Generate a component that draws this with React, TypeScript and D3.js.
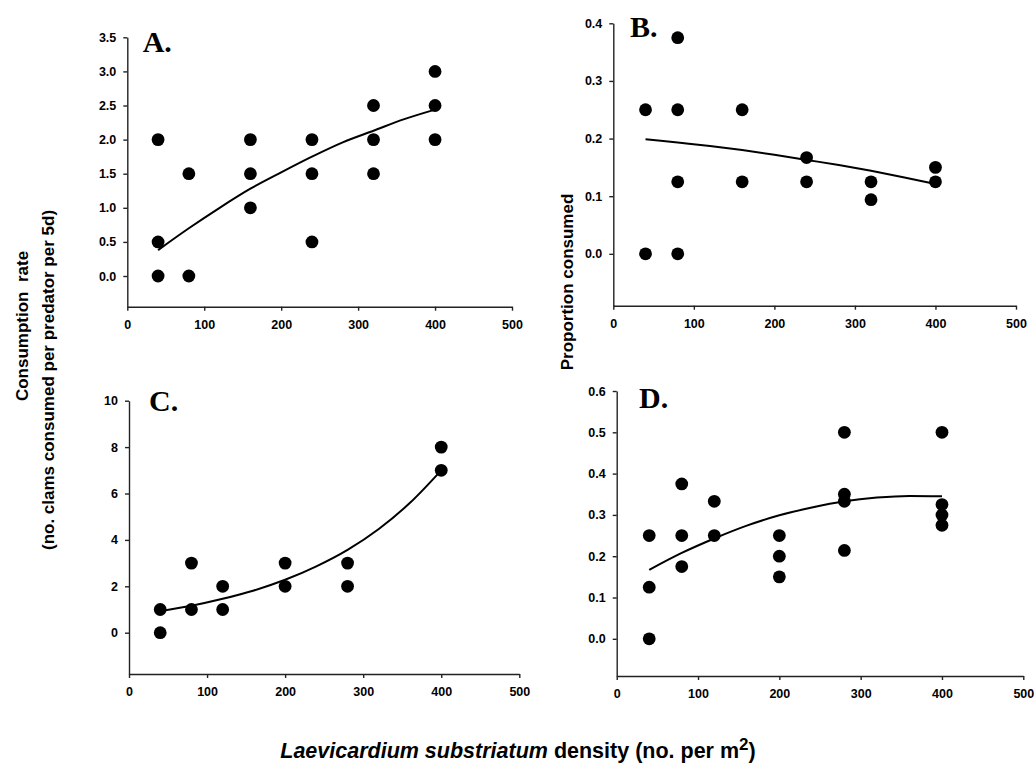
import React, { useEffect, useRef } from "react";
import * as d3 from "d3";

// A. consumption rate vs density
const densityA = [40, 40, 40, 80, 80, 160, 160, 160, 240, 240, 240, 320, 320, 320, 400, 400, 400];
const rateA = [2, 0.5, 0, 1.5, 0, 2, 1.5, 1, 2, 1.5, 0.5, 2.5, 2, 1.5, 3, 2.5, 2];
const fitXA = [40, 80, 120, 160, 200, 240, 280, 320, 360, 400];
const fitYA = [0.38, 0.7, 1.0, 1.28, 1.52, 1.75, 1.96, 2.13, 2.3, 2.44];

// B. proportion consumed
const densityB = [40, 40, 80, 80, 80, 80, 160, 160, 240, 240, 320, 320, 400, 400];
const propB = [0.25, 0, 0.375, 0.25, 0.125, 0, 0.25, 0.125, 0.167, 0.125, 0.125, 0.094, 0.15, 0.125];
const fitXB = [40, 80, 120, 160, 200, 240, 280, 320, 360, 400];
const fitYB = [0.199, 0.193, 0.187, 0.18, 0.172, 0.163, 0.154, 0.144, 0.133, 0.121];

// C. consumption rate
const densityC = [40, 40, 80, 80, 120, 120, 200, 200, 280, 280, 400, 400];
const rateC = [1, 0, 3, 1, 2, 1, 3, 2, 3, 2, 8, 7];
const fitXC = [40, 80, 120, 160, 200, 240, 280, 320, 360, 400];
const fitYC = [0.93, 1.16, 1.46, 1.82, 2.28, 2.86, 3.57, 4.47, 5.6, 7.0];

// D. proportion consumed
const densityD = [40, 40, 40, 80, 80, 80, 120, 120, 200, 200, 200, 280, 280, 280, 280, 400, 400, 400, 400];
const propD = [0.25, 0.125, 0, 0.375, 0.25, 0.175, 0.333, 0.25, 0.25, 0.2, 0.15, 0.5, 0.35, 0.333, 0.214, 0.5, 0.325, 0.3, 0.275];
const fitXD = [40, 80, 120, 160, 200, 240, 280, 320, 360, 400];
const fitYD = [0.167, 0.208, 0.243, 0.274, 0.299, 0.318, 0.333, 0.342, 0.346, 0.345];

const xTicks = [0, 100, 200, 300, 400, 500];
const yTicksA = [0, 0.5, 1, 1.5, 2, 2.5, 3, 3.5];
const yTicksB = [0, 0.1, 0.2, 0.3, 0.4];
const yTicksC = [0, 2, 4, 6, 8, 10];
const yTicksD = [0, 0.1, 0.2, 0.3, 0.4, 0.5, 0.6];

const panels = [
  { label: "A.", xs: densityA, ys: rateA, fx: fitXA, fy: fitYA, yTicks: yTicksA, fmt: ".1f",
    yDom: [-0.45, 3.5], px: [127.3, 512], py: [306.7, 37.3], lab: [142.7, 51.7] },
  { label: "B.", xs: densityB, ys: propB, fx: fitXB, fy: fitYB, yTicks: yTicksB, fmt: ".1f",
    yDom: [-0.09, 0.4], px: [613.3, 1016], py: [305.7, 23.3], lab: [630, 37.3] },
  { label: "C.", xs: densityC, ys: rateC, fx: fitXC, fy: fitYC, yTicks: yTicksC, fmt: "d",
    yDom: [-1.78, 10], px: [129, 519.3], py: [674, 400.7], lab: [149, 410.7] },
  { label: "D.", xs: densityD, ys: propD, fx: fitXD, fy: fitYD, yTicks: yTicksD, fmt: ".1f",
    yDom: [-0.09, 0.6], px: [616.7, 1023.3], py: [676, 391], lab: [639, 408] },
];

const sans = "'Liberation Sans', Arial, sans-serif";

const App = () => {
  const ref = useRef(null);

  useEffect(() => {
    const svg = d3.select(ref.current);
    svg.selectAll("*").remove();

    panels.forEach(p => {
      const x = d3.scaleLinear().domain([0, 500]).range(p.px);
      const y = d3.scaleLinear().domain(p.yDom).range(p.py);
      const g = svg.append("g");

      const gx = g.append("g")
        .attr("transform", `translate(0,${p.py[0]})`)
        .call(d3.axisBottom(x).tickValues(xTicks).tickSize(4).tickSizeOuter(0).tickPadding(5));
      const gy = g.append("g")
        .attr("transform", `translate(${p.px[0]},0)`)
        .call(d3.axisLeft(y).tickValues(p.yTicks).tickSize(4).tickSizeOuter(0).tickPadding(7)
          .tickFormat(d3.format(p.fmt)));

      [gx, gy].forEach(a => {
        a.select(".domain").attr("stroke", "#222").attr("stroke-width", 1.4);
        a.selectAll(".tick line").attr("stroke", "#222").attr("stroke-width", 1.4);
        a.selectAll("text").attr("font-family", sans).attr("font-weight", "bold")
          .attr("font-size", 12.5).attr("fill", "#000");
      });
      gx.selectAll("text").attr("dy", "1.05em");

      g.selectAll("circle")
        .data(p.xs.map((d, i) => [d, p.ys[i]]))
        .enter()
        .append("circle")
        .attr("cx", d => x(d[0]))
        .attr("cy", d => y(d[1]))
        .attr("r", 6.4)
        .attr("fill", "#000");

      const line = d3.line().x(d => x(d[0])).y(d => y(d[1])).curve(d3.curveMonotoneX);
      g.append("path")
        .attr("d", line(p.fx.map((d, i) => [d, p.fy[i]])))
        .attr("fill", "none")
        .attr("stroke", "#000")
        .attr("stroke-width", 2);

      g.append("text")
        .attr("x", p.lab[0])
        .attr("y", p.lab[1])
        .attr("font-family", "'Liberation Serif', 'Times New Roman', serif")
        .attr("font-weight", "bold")
        .attr("font-size", 30)
        .text(p.label);
    });

    const title = (tx, ty, txt) => svg.append("text")
      .attr("transform", `translate(${tx},${ty}) rotate(-90)`)
      .attr("text-anchor", "middle")
      .attr("font-family", sans)
      .attr("font-weight", "bold")
      .attr("font-size", 17)
      .style("white-space", "pre")
      .text(txt);

    title(28, 326, "Consumption  rate");
    title(54, 380, "(no. clams consumed per predator per 5d)");
    title(573, 282, "Proportion consumed");

    const xt = svg.append("text")
      .attr("x", 518)
      .attr("y", 758)
      .attr("text-anchor", "middle")
      .attr("font-family", sans)
      .attr("font-weight", "bold")
      .attr("font-size", 21.5);
    xt.append("tspan").attr("font-style", "italic").text("Laevicardium substriatum");
    xt.append("tspan").text(" density (no. per m");
    xt.append("tspan").attr("dy", -8).attr("font-size", 17).text("2");
    xt.append("tspan").attr("dy", 8).text(")");
  }, []);

  return <svg ref={ref} width={1035} height={767}
    style={{ position: "absolute", left: 0, top: 0, background: "#fff" }} />;
};

export default App;
